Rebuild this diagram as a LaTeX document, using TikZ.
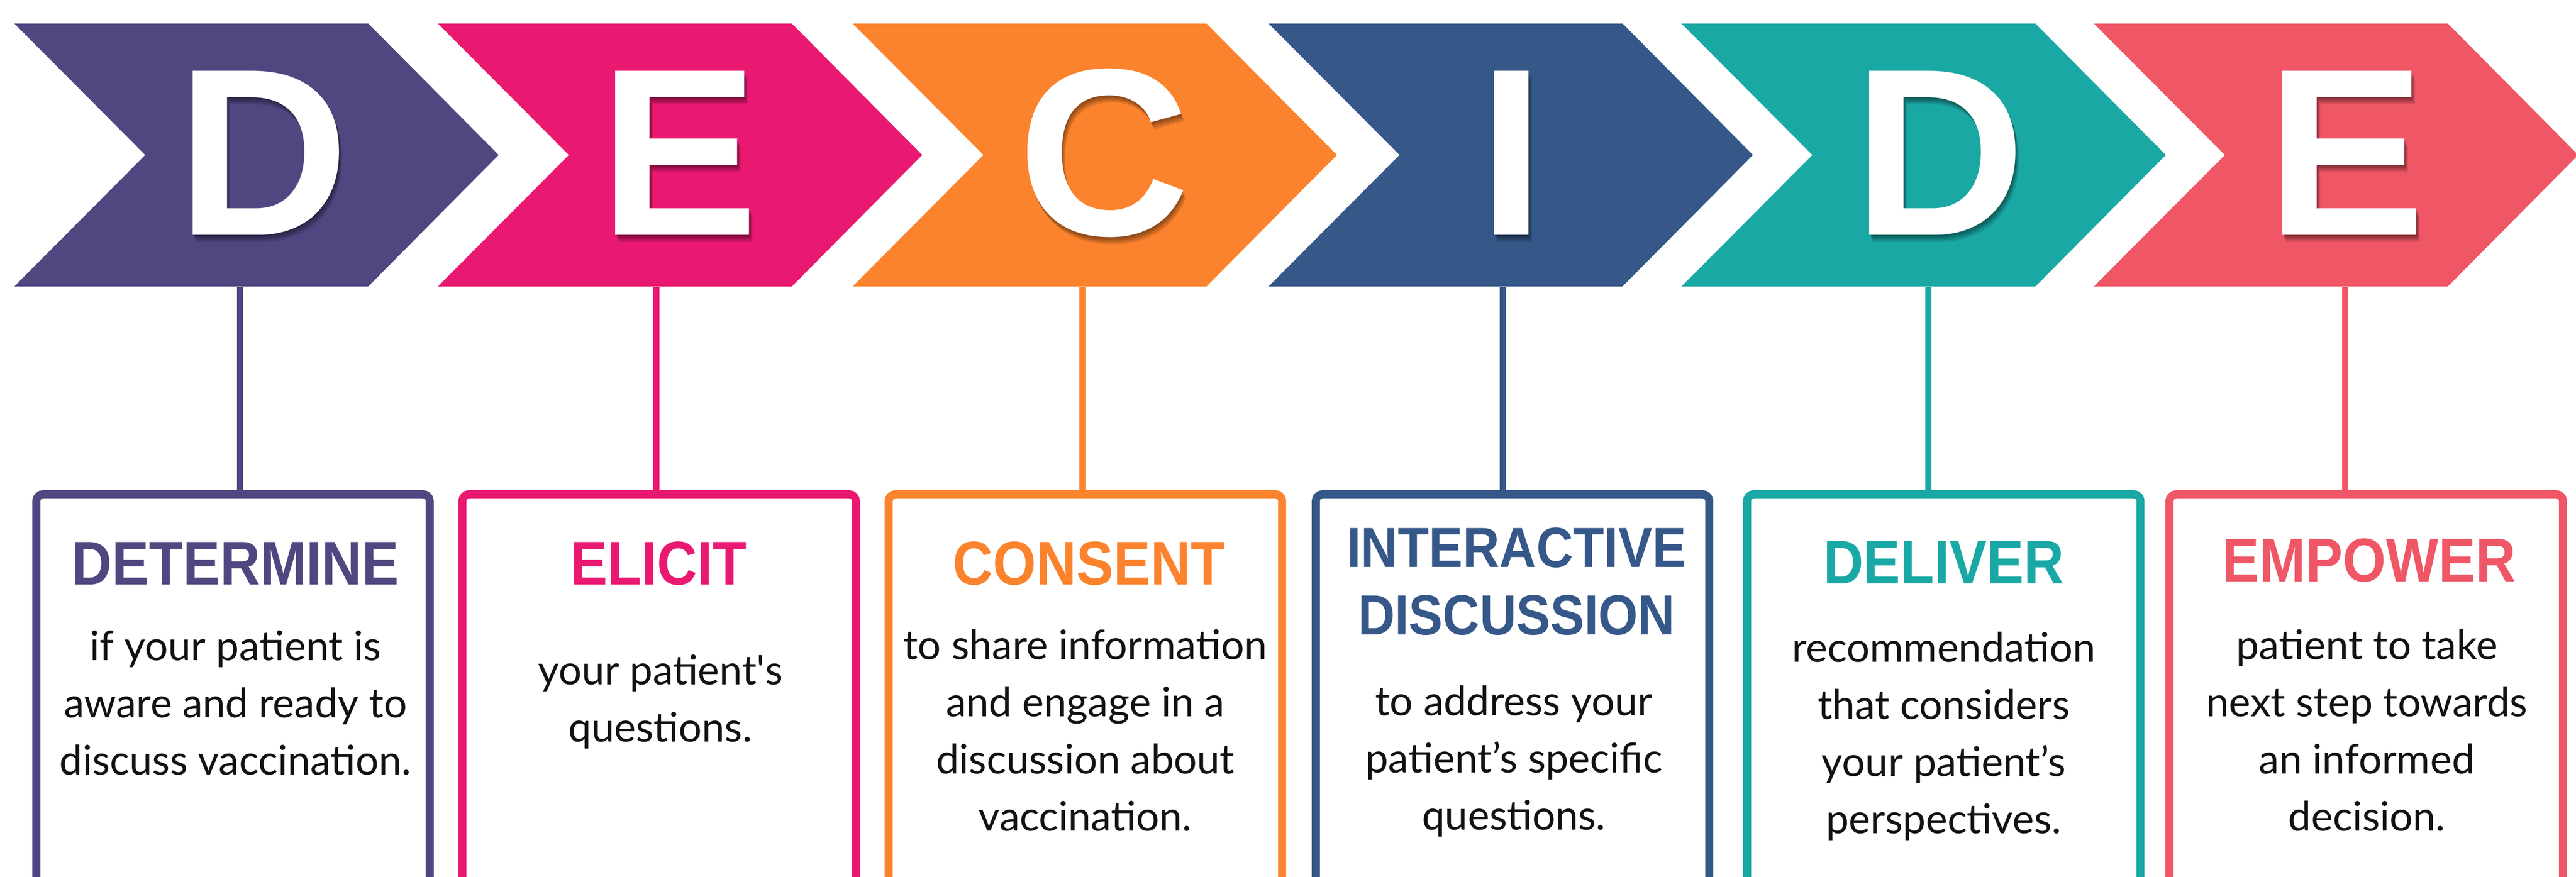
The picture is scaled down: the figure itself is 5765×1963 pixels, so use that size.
\documentclass[tikz,border=0pt]{standalone}
\usepackage{fontspec}
\setmainfont{Lato}
\newfontfamily\headfont{Liberation Sans}[FakeStretch=0.9]
\newfontfamily\letterfont{Liberation Sans}
\definecolor{cpurple}{RGB}{82,70,129}
\definecolor{cpink}{RGB}{233,25,114}
\definecolor{corange}{RGB}{252,131,45}
\definecolor{cblue}{RGB}{54,88,137}
\definecolor{cteal}{RGB}{26,168,165}
\definecolor{ccoral}{RGB}{239,87,102}
\pgfdeclarelayer{bg}
\pgfsetlayers{bg,main}
\tikzset{
  bigletter/.style={font=\letterfont\bfseries\fontsize{151.8pt}{160pt}\selectfont, text=white, inner sep=0pt, anchor=base},
  lettershadow/.style={bigletter, text=black, text opacity=0.10},
  infobox/.style={draw=#1, line width=5.12pt, rounded corners=0.15cm, fill=white,
    minimum width=8.8cm, minimum height=10.93cm, inner sep=0pt},
  link/.style={draw=#1, line width=4pt},
  head/.style={font=\headfont\bfseries\fontsize{39.3pt}{42pt}\selectfont, text=#1, anchor=base, inner sep=0pt},
  headtwo/.style={font=\headfont\bfseries\fontsize{36pt}{42.7pt}\selectfont, text=#1, anchor=base, inner sep=0pt, align=center},
  bodytext/.style={font=\fontsize{26pt}{36.4pt}\selectfont, text=black!93, anchor=base, inner sep=0pt},
}
\newcommand{\lns}[1]{\begin{tabular}[t]{@{}c@{}}#1\end{tabular}}
\begin{document}
\begin{tikzpicture}[x=0.01cm,y=-0.01cm]
\clip (0,0) rectangle (5765,1963);
\fill[white] (0,0) rectangle (5765,1963);
% chevrons
\foreach \L/\c in {32/cpurple, 980/cpink, 1908/corange, 2839/cblue, 3763/cteal, 4686/ccoral}{
  \fill[\c] (\L,52.6) -- ++(792,0) -- ++(292,294.4) -- ++(-292,294.4) -- ++(-792,0) -- ++(293,-294.4) -- cycle;
}
% letters with soft shadow
\foreach \x/\l [count=\i] in {589/D,1520/E,2470/C,3383/I,4341/D,5251/E}{
  \foreach \d [count=\k] in {4,7,10,13,16}{
    \node[lettershadow] (sh\i\k) at (\x+0.45*\d,526+\d) {\l};
  }
  \node[bigletter] (L\i) at (\x,526) {\l};
}
% boxes
\node[infobox=cpurple] (box1) at (521.5,1653.5) {};
\node[infobox=cpink]   (box2) at (1475,1653.5) {};
\node[infobox=corange] (box3) at (2429,1653.5) {};
\node[infobox=cblue]   (box4) at (3385,1653.5) {};
\node[infobox=cteal]   (box5) at (4350,1653.5) {};
\node[infobox=ccoral]  (box6) at (5295.5,1653.5) {};
\begin{pgfonlayer}{bg}
\foreach \b in {box1,box2,box3,box4,box5,box6}{
  \foreach \k in {1,...,9}{
    \fill[black, opacity=0.011, rounded corners=0.3cm]
      ([shift={(-4.5*\k,-3.5*\k)}]\b.north west) rectangle ([shift={(4.5*\k,0)}]\b.south east);
  }
}
\end{pgfonlayer}
% connectors
\coordinate (a1) at (537,642);
\coordinate (a2) at (1469,642);
\coordinate (a3) at (2423,642);
\coordinate (a4) at (3363,642);
\coordinate (a5) at (4316,642);
\coordinate (a6) at (5248,642);
\draw[link=cpurple] (a1) -- (a1 |- box1.north);
\draw[link=cpink]   (a2) -- (a2 |- box2.north);
\draw[link=corange] (a3) -- (a3 |- box3.north);
\draw[link=cblue]   (a4) -- (a4 |- box4.north);
\draw[link=cteal]   (a5) -- (a5 |- box5.north);
\draw[link=ccoral]  (a6) -- (a6 |- box6.north);
% headings
\node[head=cpurple] (h1) at (527,1309) {DETERMINE};
\node[head=cpink]   (h2) at (1474,1309) {ELICIT};
\node[head=corange] (h3) at (2437,1309) {CONSENT};
\node[headtwo=cblue] (h4a) at (3394,1270) {INTERACTIVE};
\node[headtwo=cblue] (h4b) at (3394,1421) {DISCUSSION};
\node[head=cteal]   (h5) at (4350,1307) {DELIVER};
\node[head=ccoral]  (h6) at (5302,1302) {EMPOWER};
% body texts
\node[bodytext] (t1) at (527,1479) {\lns{if your patient is\\aware and ready to\\discuss vaccination.}};
\node[bodytext] (t2) at (1478,1533) {\lns{your patient\textquotesingle s\\questions.}};
\node[bodytext] (t3) at (2429,1476) {\lns{to share information\\and engage in a\\discussion about\\vaccination.}};
\node[bodytext] (t4) at (3388,1602) {\lns{to address your\\patient’s specific\\questions.}};
\node[bodytext] (t5) at (4350,1482) {\lns{recommendation\\that considers\\your patient’s\\perspectives.}};
\node[bodytext] (t6) at (5297,1476) {\lns{patient to take\\next step towards\\an informed\\decision.}};
\end{tikzpicture}
\end{document}
